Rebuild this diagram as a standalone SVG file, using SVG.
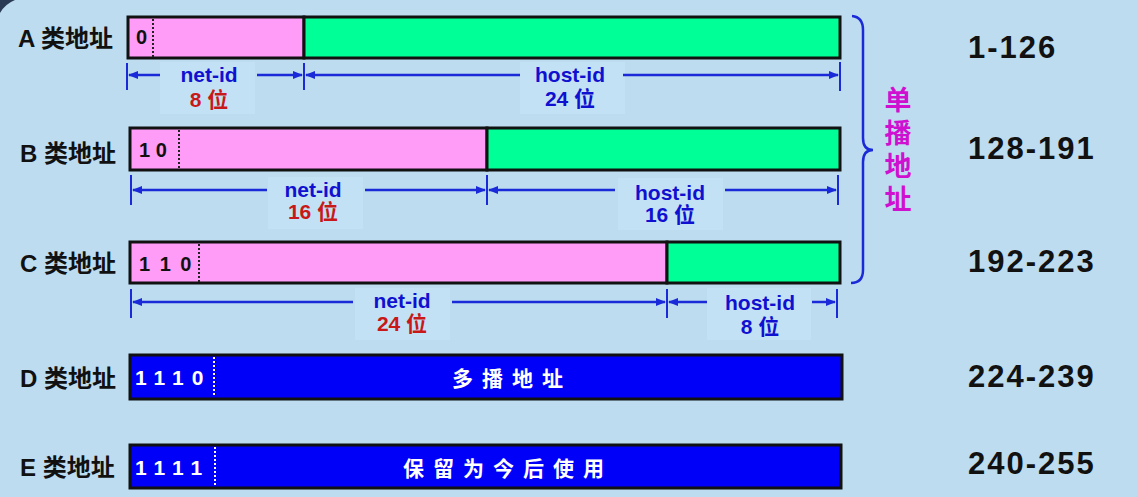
<svg xmlns="http://www.w3.org/2000/svg" width="1137" height="497" viewBox="0 0 1137 497">
<defs>
<style>
.lbl{font-family:"Liberation Sans","Noto Sans CJK SC",sans-serif;font-weight:bold;font-size:24px;fill:#111}
.rng{font-family:"Liberation Sans",sans-serif;font-weight:bold;font-size:31px;fill:#111;letter-spacing:2px}
.bits{font-family:"Liberation Sans",sans-serif;font-weight:bold;font-size:20px;fill:#111}
.wbits{font-family:"Liberation Sans",sans-serif;font-weight:bold;font-size:21px;fill:#fff;letter-spacing:8px}
.wtxt{font-family:"Noto Sans CJK SC",sans-serif;font-weight:bold;font-size:21px;fill:#fff;letter-spacing:9px}
.dim{font-family:"Liberation Sans","Noto Sans CJK SC",sans-serif;font-weight:bold;font-size:21px;text-anchor:middle}
.net{fill:#1010d0}
.red{fill:#c81818}
.pink{fill:#ff9cf7;stroke:#111;stroke-width:3}
.green{fill:#00ff96;stroke:#111;stroke-width:3}
.bluebox{fill:#0000f8;stroke:#111;stroke-width:3}
.dot{stroke:#222;stroke-width:2;stroke-dasharray:2 2}
.wdot{stroke:#fff8c0;stroke-width:2;stroke-dasharray:2 2}
.tick{stroke:#1a2ad8;stroke-width:2}
.arr{stroke:#1a2ad8;stroke-width:2.5;fill:none;marker-end:url(#ah)}
.soft{fill:#c3e1f5}
</style>
<marker id="ah" viewBox="0 0 10 10" refX="9" refY="5" markerWidth="4" markerHeight="4" orient="auto" markerUnits="strokeWidth">
<path d="M0,1 L10,5 L0,9 z" fill="#1a2ad8"/>
</marker>
</defs>
<rect width="1137" height="497" fill="#bddcf0"/>
<path d="M0,13 Q5,4 15,0 L0,0 z" fill="#2a3a55"/>
<!-- soft label backgrounds -->
<rect class="soft" x="160" y="62" width="95" height="52"/>
<rect class="soft" x="520" y="62" width="105" height="52"/>
<rect class="soft" x="268" y="177" width="95" height="52"/>
<rect class="soft" x="618" y="178" width="105" height="52"/>
<rect class="soft" x="355" y="288" width="95" height="52"/>
<rect class="soft" x="707" y="288" width="104" height="52"/>

<g id="classA">
<text class="lbl" x="18" y="47">A 类地址</text>
<rect class="pink" x="128" y="17" width="176" height="41"/>
<rect class="green" x="304" y="17" width="536" height="41"/>
<line class="dot" x1="153" y1="19" x2="153" y2="57"/>
<text class="bits" x="136" y="44">0</text>
<text class="rng" x="968" y="58">1-126</text>
</g>
<g id="classB">
<text class="lbl" x="20" y="162">B 类地址</text>
<rect class="pink" x="130" y="128" width="357" height="42"/>
<rect class="green" x="487" y="128" width="353" height="42"/>
<line class="dot" x1="179" y1="130" x2="179" y2="169"/>
<text class="bits" x="139" y="157" xml:space="preserve">1 0</text>
<text class="rng" x="968" y="159">128-191</text>
</g>
<g id="classC">
<text class="lbl" x="20" y="272">C 类地址</text>
<rect class="pink" x="130" y="242" width="537" height="41"/>
<rect class="green" x="667" y="242" width="173" height="41"/>
<line class="dot" x1="199" y1="244" x2="199" y2="282"/>
<text class="bits" x="139" y="271" letter-spacing="2" xml:space="preserve">1 1 0</text>
<text class="rng" x="968" y="272">192-223</text>
</g>
<g id="classD">
<text class="lbl" x="20" y="387">D 类地址</text>
<rect class="bluebox" x="130" y="355" width="712" height="44"/>
<line class="wdot" x1="214" y1="357" x2="214" y2="397"/>
<text class="wbits" x="135" y="385">1110</text>
<text class="wtxt" x="452" y="386">多播地址</text>
<text class="rng" x="968" y="387">224-239</text>
</g>
<g id="classE">
<text class="lbl" x="20" y="476">E 类地址</text>
<rect class="bluebox" x="130" y="445" width="711" height="43"/>
<line class="wdot" x1="215" y1="447" x2="215" y2="486"/>
<text class="wbits" x="135" y="475">1111</text>
<text class="wtxt" x="403" y="476">保留为今后使用</text>
<text class="rng" x="968" y="474">240-255</text>
</g>
<g id="unicast">
<path d="M852,16 Q863,17 863,30 L863,138 Q863,150 873,150 Q863,150 863,162 L863,270 Q863,283 851,283" fill="none" stroke="#1a2ad8" stroke-width="2.5"/>
<text x="898" y="86" font-family="Noto Sans CJK SC,sans-serif" font-weight="bold" font-size="27" fill="#d010d0" writing-mode="vertical-rl" letter-spacing="6">单播地址</text>
</g>
<g id="connectors">
<line class="tick" x1="127" y1="63" x2="127" y2="90"/>
<line class="tick" x1="304" y1="63" x2="304" y2="90"/>
<line class="tick" x1="840" y1="62" x2="840" y2="91"/>
<line class="arr" x1="160" y1="75" x2="129" y2="75"/>
<line class="arr" x1="257" y1="75" x2="302" y2="75"/>
<line class="arr" x1="520" y1="75" x2="306" y2="75"/>
<line class="arr" x1="623" y1="75" x2="838" y2="75"/>

<line class="tick" x1="131" y1="175" x2="131" y2="205"/>
<line class="tick" x1="487" y1="175" x2="487" y2="205"/>
<line class="tick" x1="838" y1="175" x2="838" y2="205"/>
<line class="arr" x1="267" y1="190" x2="133" y2="190"/>
<line class="arr" x1="365" y1="190" x2="485" y2="190"/>
<line class="arr" x1="615" y1="190" x2="489" y2="190"/>
<line class="arr" x1="725" y1="190" x2="836" y2="190"/>

<line class="tick" x1="131" y1="289" x2="131" y2="318"/>
<line class="tick" x1="667" y1="289" x2="667" y2="318"/>
<line class="tick" x1="837" y1="289" x2="837" y2="318"/>
<line class="arr" x1="353" y1="302" x2="133" y2="302"/>
<line class="arr" x1="452" y1="302" x2="665" y2="302"/>
<line class="arr" x1="707" y1="302" x2="669" y2="302"/>
<line class="arr" x1="812" y1="302" x2="835" y2="302"/>
</g>
<g id="dimlabels">
<text class="dim net" x="209" y="82">net-id</text>
<text class="dim red" x="209" y="107">8 位</text>
<text class="dim net" x="570" y="82">host-id</text>
<text class="dim net" x="570" y="106">24 位</text>
<text class="dim net" x="313" y="197">net-id</text>
<text class="dim red" x="313" y="219">16 位</text>
<text class="dim net" x="670" y="200">host-id</text>
<text class="dim net" x="670" y="222">16 位</text>
<text class="dim net" x="402" y="308">net-id</text>
<text class="dim red" x="402" y="331">24 位</text>
<text class="dim net" x="760" y="310">host-id</text>
<text class="dim net" x="760" y="334">8 位</text>
</g>
</svg>
